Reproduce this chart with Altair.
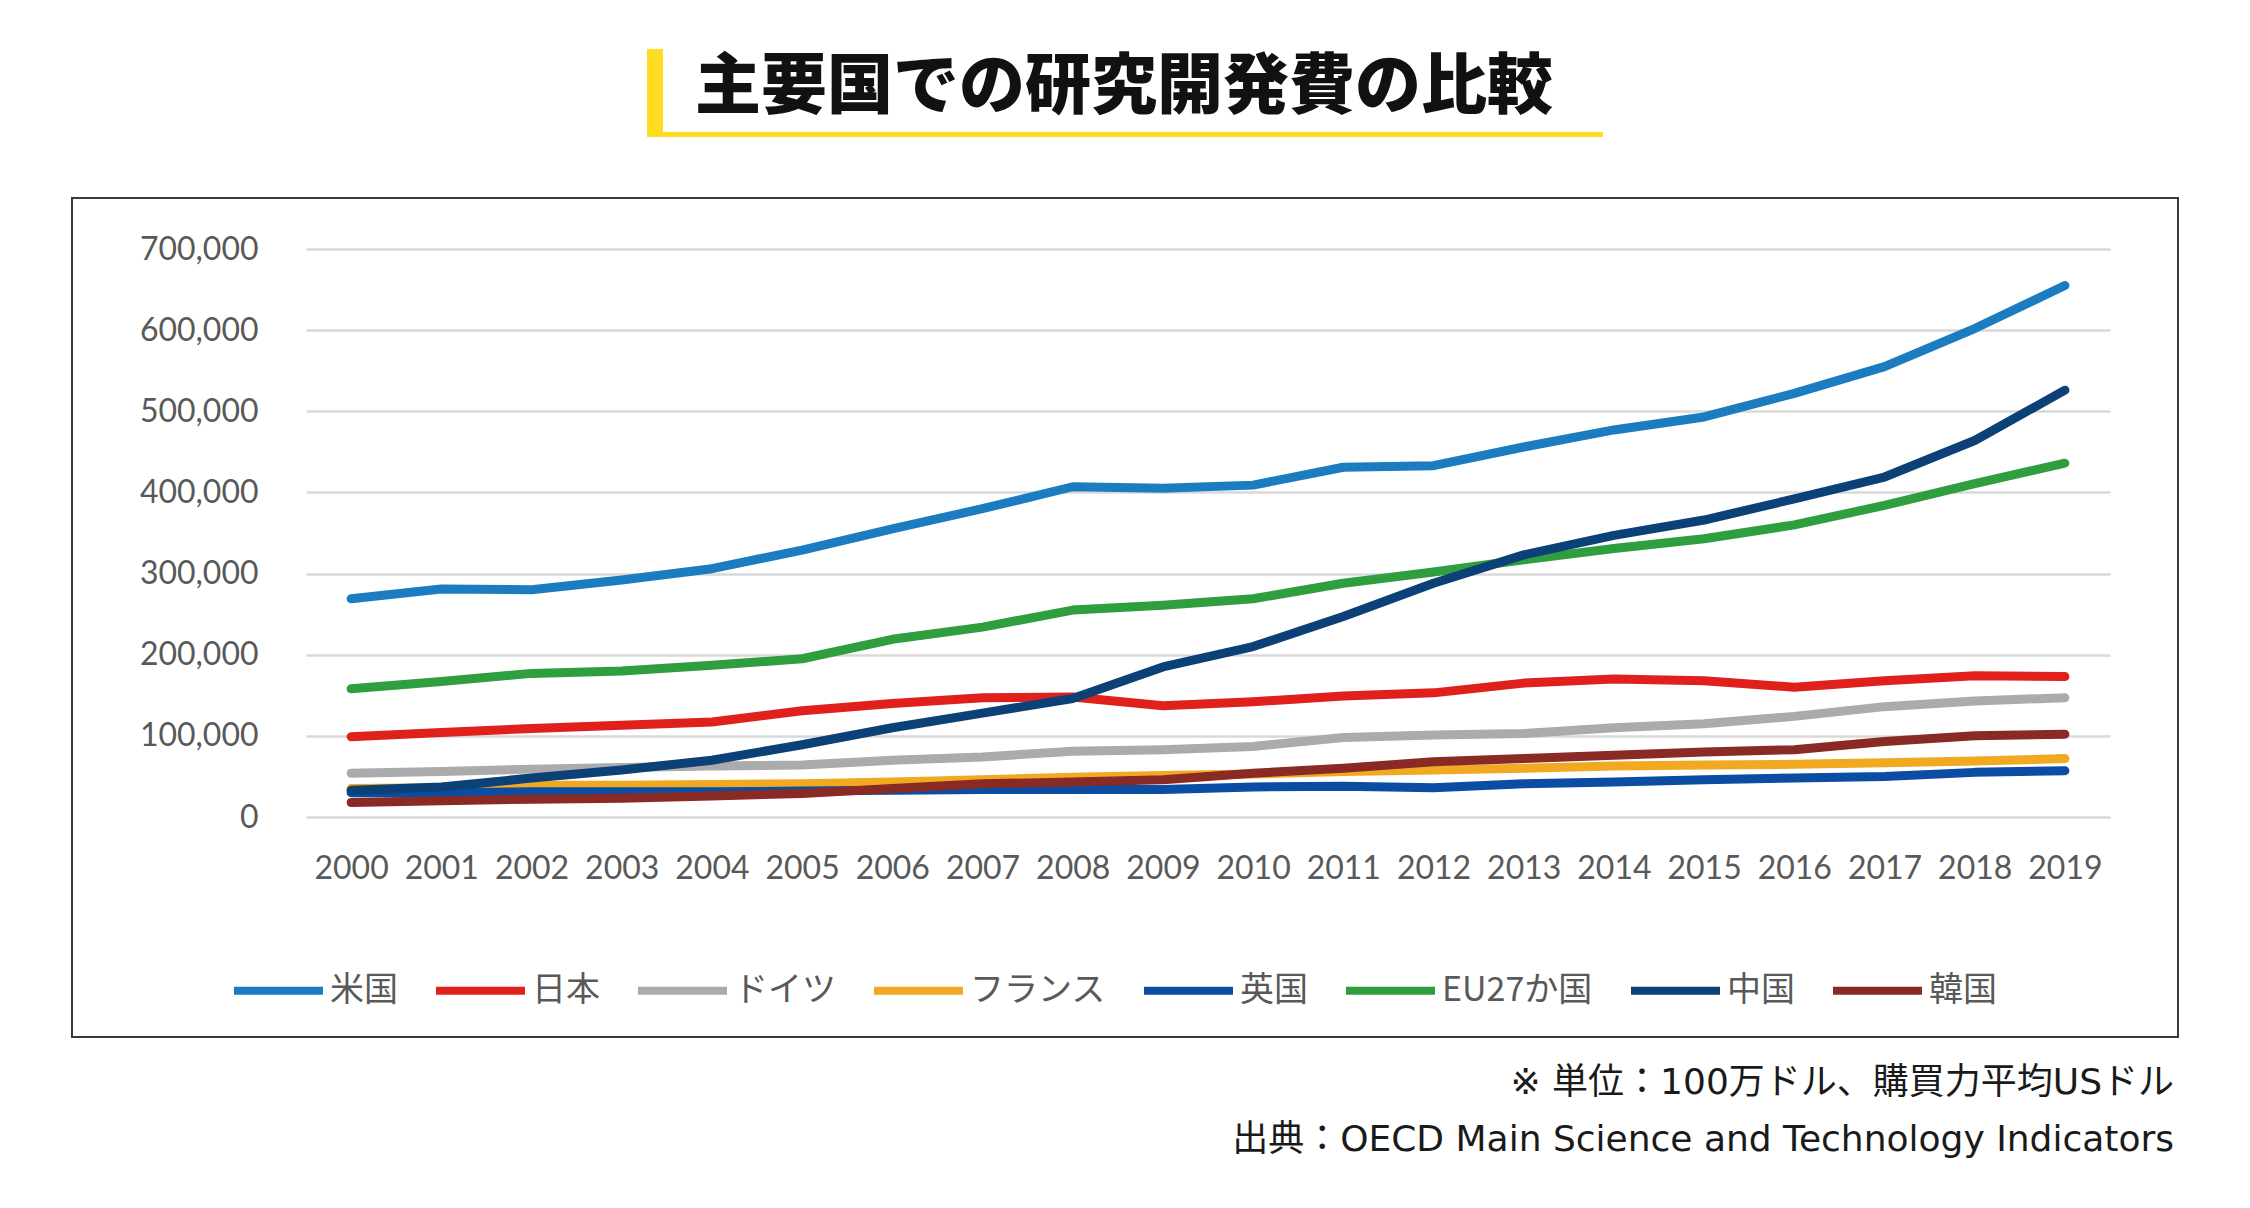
import altair as alt
import pandas as pd

# ---- data (R&D expenditure, million USD PPP) ----
years = [str(y) for y in range(2000, 2020)]
countries = ["米国", "日本", "ドイツ", "フランス", "英国", "EU27か国", "中国", "韓国"]
colors = ["#1B7CC0", "#E0211B", "#ABABAB", "#F2A922", "#0A4DA3", "#2E9E3E", "#0B4177", "#8A2A24"]

us = [269000, 281000, 280000, 292000, 306000, 329000, 355000, 380000, 407000, 405000,
      409000, 431000, 433000, 456000, 477000, 493000, 522000, 555000, 602000, 655000]
japan = [99000, 104000, 109000, 113000, 117000, 131000, 140000, 147000, 148000, 137000,
         142000, 149000, 153000, 165000, 170000, 168000, 160000, 168000, 174000, 173000]
germany = [54000, 56000, 59000, 61000, 63000, 64000, 70000, 74000, 81000, 83000,
           87000, 98000, 101000, 103000, 110000, 115000, 124000, 136000, 143000, 147000]
france = [35000, 36000, 39000, 39000, 40000, 41000, 43000, 46000, 49000, 51000,
          53000, 56000, 58000, 60000, 63000, 64000, 65000, 67000, 69000, 72000]
uk = [30000, 30000, 31000, 31000, 31000, 32000, 33000, 34000, 34000, 34000,
      37000, 38000, 36000, 41000, 43000, 46000, 48000, 50000, 55000, 57000]
eu27 = [158000, 167000, 177000, 180000, 187000, 195000, 219000, 234000, 255000, 261000,
        269000, 288000, 302000, 317000, 331000, 343000, 360000, 384000, 411000, 436000]
china = [33000, 37000, 48000, 58000, 70000, 89000, 110000, 128000, 146000, 185000,
         210000, 247000, 288000, 323000, 347000, 366000, 392000, 419000, 464000, 526000]
korea = [18000, 20000, 22000, 23000, 26000, 29000, 35000, 41000, 43000, 46000,
         54000, 60000, 68000, 72000, 76000, 80000, 83000, 93000, 100000, 102000]
series = [us, japan, germany, france, uk, eu27, china, korea]

y_ticks = [0, 100000, 200000, 300000, 400000, 500000, 600000, 700000]

title_text = "主要国での研究開発費の比較"
note_lines = ["※ 単位：100万ドル、購買力平均USドル",
              "出典：OECD Main Science and Technology Indicators"]

rows = []
for name, vals in zip(countries, series):
    for yr, v in zip(years, vals):
        rows.append({"国": name, "年": yr, "研究開発費": v})
df = pd.DataFrame(rows)

W, H = 1804, 568
AX_FONT = "Lato"
CJK = "Noto Sans CJK JP"
NOTE_FONT = "DejaVu Sans, Noto Sans CJK JP"

lines = alt.Chart(df).mark_line(strokeWidth=9, strokeCap="round", strokeJoin="round").encode(
    x=alt.X("年:O", sort=years, scale=alt.Scale(type="point", padding=0.5),
            axis=alt.Axis(title=None, labelAngle=0, domain=False, ticks=False, tickSize=0,
                          grid=False, labelPadding=36, labelFontSize=32, labelFont=AX_FONT,
                          labelColor="#595959")),
    y=alt.Y("研究開発費:Q", scale=alt.Scale(domain=[0, 700000], nice=False),
            axis=alt.Axis(title=None, values=y_ticks, format=",d", domain=False, ticks=False,
                          tickSize=0, labelPadding=48, labelFontSize=32, labelFont=AX_FONT,
                          labelColor="#595959", gridColor="#D9D9D9", gridWidth=2.5)),
    color=alt.Color("国:N", scale=alt.Scale(domain=countries, range=colors),
                    legend=alt.Legend(title=None, orient="none", direction="horizontal",
                                      legendX=-76, legendY=693, symbolType="stroke",
                                      symbolSize=7921, symbolStrokeWidth=8,
                                      labelFontSize=34, labelFont=CJK, labelColor="#595959",
                                      labelOffset=3, columnPadding=22, labelLimit=400,
                                      padding=0)),
)

one = alt.Data(values=[{"k": 0}])

frame = alt.Chart(one).mark_rect(fillOpacity=0, stroke="#3A3A3A", strokeWidth=2).encode(
    x=alt.value(-234), x2=alt.value(1872), y=alt.value(-51), y2=alt.value(788))

bar_v = alt.Chart(one).mark_rect(color="#FFDC1F").encode(
    x=alt.value(341), x2=alt.value(357), y=alt.value(-200), y2=alt.value(-112))
bar_h = alt.Chart(one).mark_rect(color="#FFDC1F").encode(
    x=alt.value(341), x2=alt.value(1297), y=alt.value(-117), y2=alt.value(-112))

title = alt.Chart(alt.Data(values=[{"t": title_text}])).mark_text(
    font=CJK, fontSize=66, fontWeight=900, color="#111111", align="center",
    baseline="middle").encode(text="t:N", x=alt.value(818), y=alt.value(-161))

note1 = alt.Chart(alt.Data(values=[{"t": note_lines[0]}])).mark_text(
    font=NOTE_FONT, fontSize=36, color="#1A1A1A", align="right",
    baseline="middle").encode(text="t:N", x=alt.value(1868), y=alt.value(834))
note2 = alt.Chart(alt.Data(values=[{"t": note_lines[1]}])).mark_text(
    font=NOTE_FONT, fontSize=36, color="#1A1A1A", align="right",
    baseline="middle").encode(text="t:N", x=alt.value(1868), y=alt.value(891))

chart = alt.layer(frame, bar_v, bar_h, title, lines, note1, note2).properties(
    width=W, height=H,
    padding={"left": 298, "top": 241, "right": 120, "bottom": 370},
    autosize=alt.AutoSizeParams(type="none"),
    background="white",
).configure_view(strokeWidth=0)

chart.save("out.html", embed_options={"renderer": "svg", "actions": False})
